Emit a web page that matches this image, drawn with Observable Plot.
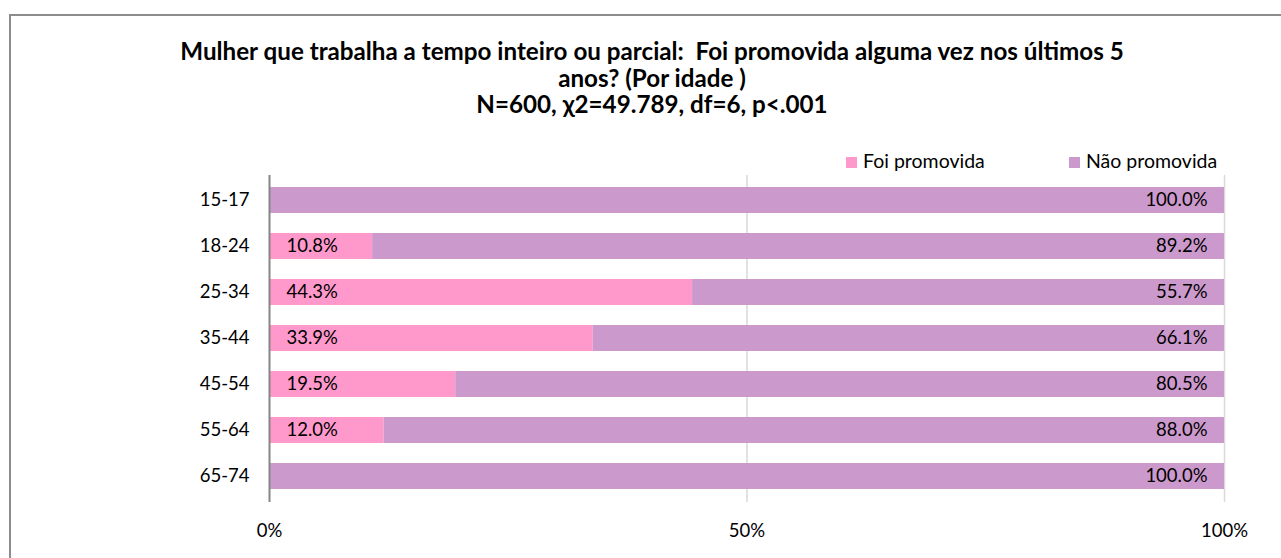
<!DOCTYPE html>
<html>
<head>
<meta charset="utf-8">
<script src="https://cdn.jsdelivr.net/npm/d3@7"></script>
<script src="https://cdn.jsdelivr.net/npm/@observablehq/plot@0.6"></script>
<style>
  html, body { margin: 0; padding: 0; background: #fff; }
  #wrap { position: relative; width: 1281px; height: 558px; overflow: hidden; font-family: Lato, "Open Sans", sans-serif; color: #000; }
  #frame { position: absolute; left: 9px; top: 14px; width: 1400px; height: 700px; border-top: 2px solid #8c8c8c; border-left: 2px solid #8c8c8c; box-sizing: border-box; }
  #title { position: absolute; left: 102px; width: 1100px; top: 38px; text-align: center; font-weight: bold; font-size: 24.2px; line-height: 26.5px; }
  .leg { position: absolute; top: 148px; font-size: 19.5px; line-height: 26px; white-space: nowrap; }
  .sw { display: inline-block; width: 11px; height: 11px; margin-right: 6px; vertical-align: 0px; }
  #chart { position: absolute; left: 0; top: 0; }
</style>
</head>
<body>
<div id="wrap">
  <div id="frame"></div>
  <div id="title"></div>
  <div id="legend"></div>
  <div id="chart"></div>
</div>
<script>
const titleLines = [
  "Mulher que trabalha a tempo inteiro ou parcial:\u00A0 Foi promovida alguma vez nos últimos 5",
  "anos? (Por idade )",
  "N=600, χ2=49.789, df=6, p<.001"
];
const ages = ["15-17", "18-24", "25-34", "35-44", "45-54", "55-64", "65-74"];
const foi = [0, 10.8, 44.3, 33.9, 19.5, 12.0, 0];
const nao = [100, 89.2, 55.7, 66.1, 80.5, 88.0, 100];
const seriesNames = ["Foi promovida", "Não promovida"];
const seriesColors = ["#ff99cc", "#cc99cc"];
const xTicks = [0, 50, 100];

document.getElementById("title").innerHTML = titleLines.map(t => t.replace(/</g, "&lt;")).join("<br>");

const legend = document.getElementById("legend");
const legX = [846, 1069];
seriesNames.forEach((n, i) => {
  const d = document.createElement("div");
  d.className = "leg";
  d.style.left = legX[i] + "px";
  d.innerHTML = `<span class="sw" style="background:${seriesColors[i]}"></span>${n}`;
  legend.appendChild(d);
});

const rows = [];
ages.forEach((a, i) => {
  rows.push({age: a, series: seriesNames[0], x1: 0, x2: foi[i], v: foi[i]});
  rows.push({age: a, series: seriesNames[1], x1: foi[i], x2: foi[i] + nao[i], v: nao[i]});
});

const chart = Plot.plot({
  width: 1281,
  height: 558,
  marginLeft: 269,
  marginRight: 57,
  marginTop: 175,
  marginBottom: 56,
  style: {fontFamily: "Lato, 'Open Sans', sans-serif", fontSize: "18.5px", color: "#000", background: "transparent"},
  x: {domain: [0, 100], ticks: xTicks, tickFormat: d => d + "%", tickSize: 0, tickPadding: 21, label: null},
  y: {domain: ages, paddingInner: 0.43, paddingOuter: 0.215, tickSize: 0, tickPadding: 20, label: null},
  color: {domain: seriesNames, range: seriesColors},
  marks: [
    Plot.ruleX([50, 100], {stroke: "#d9d9d9", strokeWidth: 1.5}),
    Plot.barX(rows.filter(r => r.v > 0), {x1: "x1", x2: "x2", y: "age", fill: "series", inset: 0}),
    Plot.text(rows.filter(r => r.series === seriesNames[0] && r.v > 0), {x: "x1", y: "age", text: r => r.v.toFixed(1) + "%", textAnchor: "start", dx: 17, fill: "#000", fontSize: 18.5}),
    Plot.text(rows.filter(r => r.series === seriesNames[1] && r.v > 0), {x: "x2", y: "age", text: r => r.v.toFixed(1) + "%", textAnchor: "end", dx: -17, fill: "#000", fontSize: 18.5}),
    Plot.ruleX([0], {stroke: "#868686", strokeWidth: 2})
  ]
});
document.getElementById("chart").appendChild(chart);
</script>
</body>
</html>
